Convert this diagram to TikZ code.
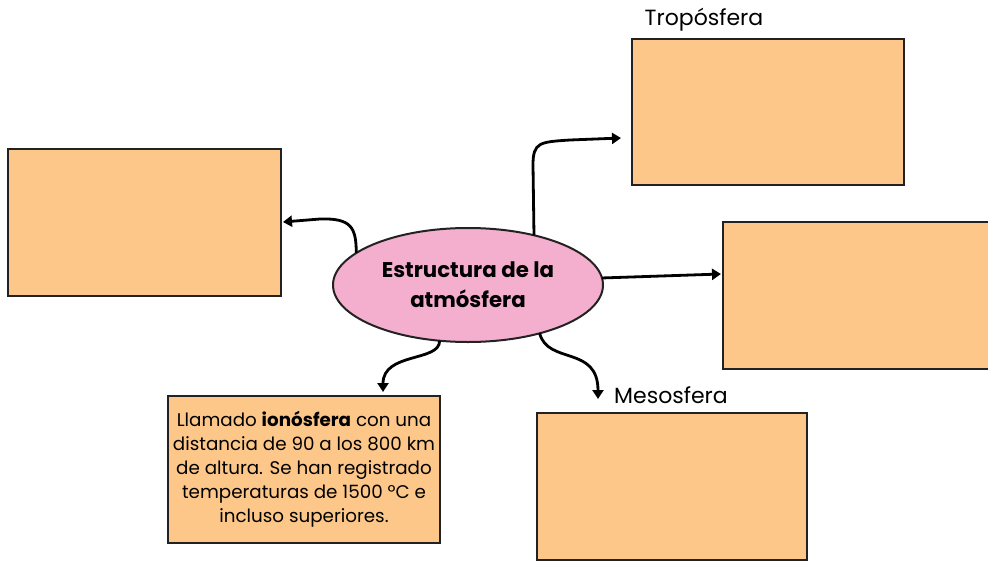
\documentclass[tikz,border=0pt]{standalone}
\usepackage{fontspec}
\setmainfont{Poppins}
\usetikzlibrary{arrows.meta,shapes.geometric}
\definecolor{boxfill}{HTML}{FDC78A}
\definecolor{ellfill}{HTML}{F4AECE}
\definecolor{edge}{HTML}{222222}
\tikzset{
  orangebox/.style={draw=edge, line width=2pt, fill=boxfill, rectangle, inner sep=0pt, outer sep=0pt, anchor=north west},
  link/.style={line width=2.8pt, -{Triangle[width=11pt,length=9pt]}},
  lbl/.style={font=\fontsize{22}{26}\selectfont, inner sep=0pt},
}
\begin{document}
\begin{tikzpicture}[x=1pt,y=-1pt]
\useasboundingbox (0,0) rectangle (988,562);
\clip (0,0) rectangle (988,562);
% boxes
\node[orangebox, minimum width=273pt, minimum height=147pt] (left) at (8,148.5) {};
\node[orangebox, minimum width=272pt, minimum height=146pt] (tropo) at (632,39) {};
\node[orangebox, minimum width=300pt, minimum height=147pt] (right) at (723,222) {};
\node[orangebox, minimum width=270pt, minimum height=147pt] (meso) at (537,413) {};
\node[orangebox, minimum width=272pt, minimum height=147pt] (iono) at (168,396) {};
\node[align=center, font=\fontsize{18.3}{24}\selectfont, inner sep=0pt] (ionotext) at (iono.center)
  {Llamado \textbf{ionósfera} con una\\distancia de 90 a los 800 km\\de altura. Se han registrado\\temperaturas de 1500 ºC e\\incluso superiores.};
% labels
\node[lbl] (tlabel) at (704,20) {Tropósfera};
\node[lbl] (mlabel) at (671,395) {Mesosfera};
% central ellipse
\node[ellipse, draw=edge, line width=2pt, fill=ellfill, minimum width=270pt, minimum height=114pt,
      inner sep=0pt, outer sep=0pt, align=center, font=\bfseries\fontsize{21.3}{30}\selectfont] (e) at (468,285)
  {Estructura de la\\atmósfera};
% connectors
\coordinate (tl) at (283,222);
\coordinate (tt) at (621,138);
\coordinate (tr) at (721,274);
\coordinate (tb) at (383,392);
\coordinate (tm) at (598,399);
\draw[link] (e.164) .. controls (356,228) and (352,218) .. (320,219) -- (tl);
\draw[link] (e.37.6) -- (533,165) .. controls (533,142) and (540,142) .. (570,140) -- (tt);
\draw[link] (e.3) -- (tr);
\draw[link] (e.243) .. controls (440,362) and (383,352) .. (tb);
\draw[link] (e.326) .. controls (548,365) and (598,345) .. (tm);
\end{tikzpicture}
\end{document}
